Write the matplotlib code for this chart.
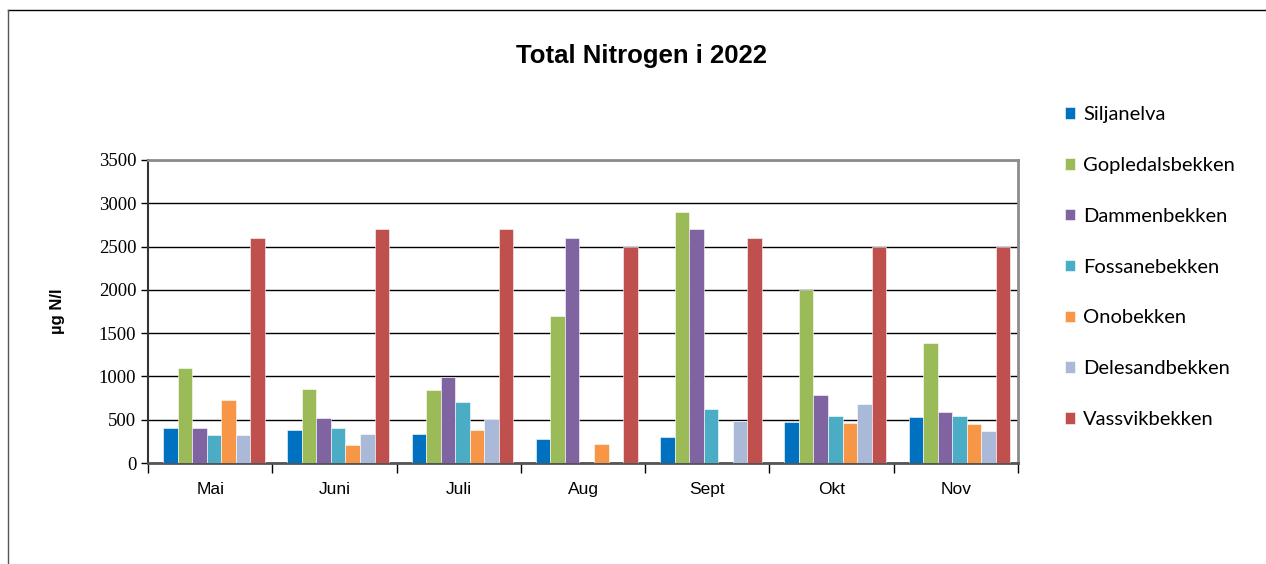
import matplotlib.pyplot as plt
import numpy as np

months = ["Mai", "Juni", "Juli", "Aug", "Sept", "Okt", "Nov"]
series_names = ["Siljanelva", "Gopledalsbekken", "Dammenbekken", "Fossanebekken",
                "Onobekken", "Delesandbekken", "Vassvikbekken"]
siljanelva = [400, 380, 340, 280, 300, 470, 530]
gopledalsbekken = [1100, 860, 840, 1700, 2900, 2000, 1390]
dammenbekken = [410, 520, 990, 2600, 2700, 790, 590]
fossanebekken = [320, 410, 710, np.nan, 620, 540, 540]
onobekken = [730, 210, 380, 220, 0, 460, 450]
delesandbekken = [320, 330, 510, np.nan, 490, 680, 370]
vassvikbekken = [2600, 2700, 2700, 2500, 2600, 2500, 2500]
y_ticks = [0, 500, 1000, 1500, 2000, 2500, 3000, 3500]
colors = ["#0070C0", "#9BBB59", "#8064A2", "#4BACC6", "#F79646", "#AAB9D8", "#C0504D"]

values = [siljanelva, gopledalsbekken, dammenbekken, fossanebekken,
          onobekken, delesandbekken, vassvikbekken]

# serif by default (y tick labels), other texts get their own family
plt.rcParams["font.family"] = ["Liberation Serif", "DejaVu Serif"]

fig = plt.figure(figsize=(12.66, 5.64), dpi=100)
ax = fig.add_axes([148 / 1266, 1 - 463 / 564, 870 / 1266, 303 / 564])

x = np.arange(len(months))
w = 0.117
for i, (name, vals) in enumerate(zip(series_names, values)):
    ax.bar(x + (i - 3) * w + 0.03, vals, w, color=colors[i], label=name,
           edgecolor="white", linewidth=0.4, zorder=3)

ax.set_xlim(-0.5, len(months) - 0.5)
ax.set_ylim(0, 3500)
ax.set_yticks(y_ticks)
ax.tick_params(axis="y", length=5, width=1, direction="out", labelsize=13.5)
ax.yaxis.grid(True, color="black", linewidth=1.0, zorder=0)
ax.set_axisbelow(True)
ax.set_xticks(x)
ax.set_xticklabels(months, fontsize=12.5, family="Liberation Sans")
ax.set_xticks(np.arange(-0.5, len(months)), minor=True)
ax.tick_params(axis="x", which="major", length=0, pad=14)
ax.tick_params(axis="x", which="minor", length=7, direction="out", width=1)

for s in ["top", "right"]:
    ax.spines[s].set_color("#8c8c8c")
    ax.spines[s].set_linewidth(2)
ax.spines["left"].set_color("#333333")
ax.spines["left"].set_linewidth(1.5)
ax.spines["bottom"].set_color("#555555")
ax.spines["bottom"].set_linewidth(2)

ax.set_ylabel("µg N/l", fontsize=12, fontweight="bold", family="Liberation Sans", labelpad=24)

fig.text(641 / 1266, 1 - 56 / 564, "Total Nitrogen i 2022", ha="center", va="center",
         fontsize=18.5, fontweight="bold", family="Liberation Sans")

handles, labels = ax.get_legend_handles_labels()
fig.legend(handles, labels, loc="upper left", bbox_to_anchor=(1047 / 1266, 1 - 88 / 564),
           frameon=False, handlelength=0.5, handleheight=0.5,
           labelspacing=1.68, handletextpad=0.4, prop={"family": "Lato", "size": 14.5})

# outer chart border (partly cut off)
fig.add_artist(plt.Line2D([8 / 1266, 1], [1 - 10 / 564, 1 - 10 / 564], color="black", linewidth=1))
fig.add_artist(plt.Line2D([8 / 1266, 8 / 1266], [0, 1 - 10 / 564], color="#555555", linewidth=1))

fig.savefig("out.png", dpi=100)
